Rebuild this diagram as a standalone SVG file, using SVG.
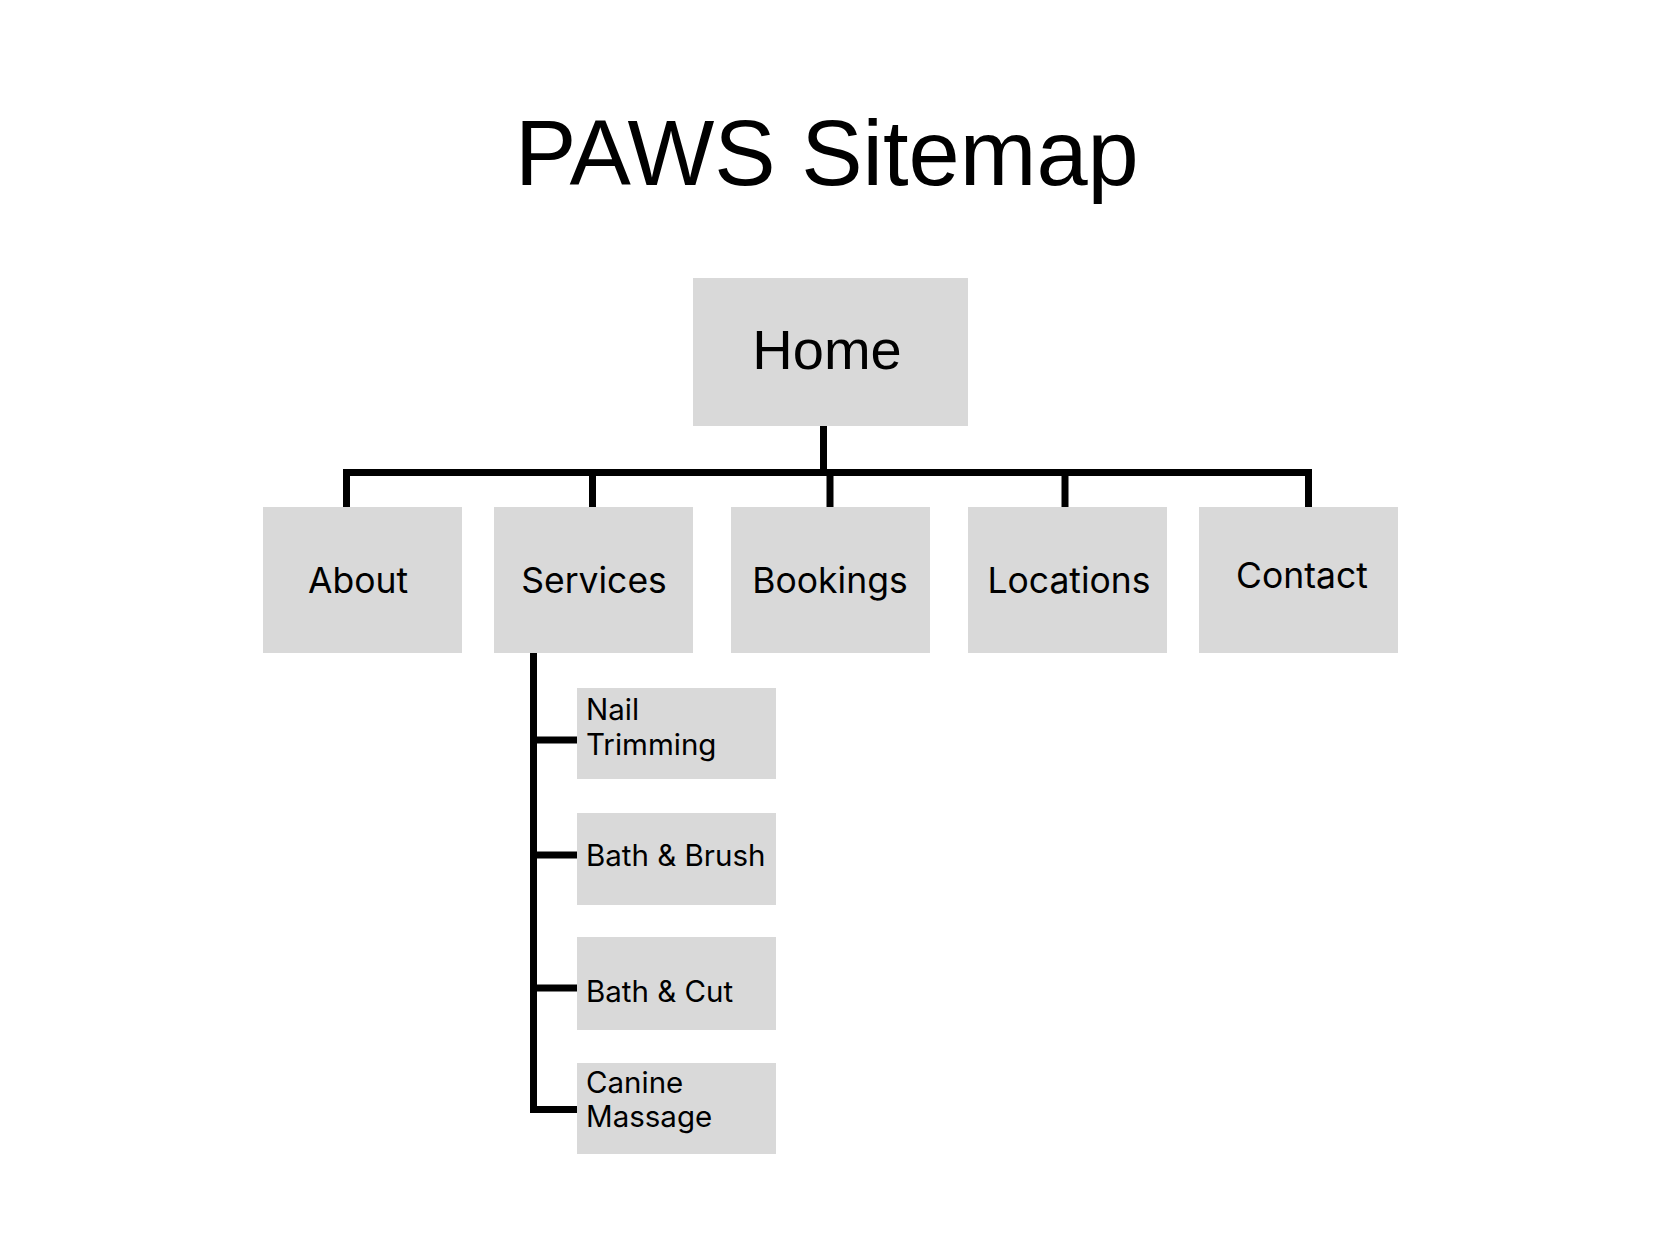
<svg xmlns="http://www.w3.org/2000/svg" width="1655" height="1240" viewBox="0 0 1655 1240">
  <style>
    .box { fill: #d9d9d9; }
    .title { font-family: "Liberation Sans", Arial, sans-serif; font-size: 92px; fill: #000; }
    .home { font-family: "Liberation Sans", Arial, sans-serif; font-size: 56px; fill: #000; text-anchor: middle; }
    .lbl { font-family: Inter, "Noto Sans", sans-serif; font-size: 35.5px; fill: #000; text-anchor: middle; }
    .sub { font-family: Inter, "Noto Sans", sans-serif; font-size: 29.5px; fill: #000; }
    .conn { fill: none; stroke: #000; stroke-width: 7; stroke-linejoin: miter; stroke-linecap: butt; }
  </style>
  <rect width="1655" height="1240" fill="#fff"/>
  <text class="title" x="515" y="185">PAWS Sitemap</text>

  <g id="connectors">
    <path class="conn" d="M823.5,426 V472.5"/>
    <path class="conn" d="M346.5,507 V472.5 H1308.5 V507"/>
    <path class="conn" d="M592.5,472.5 V507"/>
    <path class="conn" d="M830,472.5 V507"/>
    <path class="conn" d="M1065,472.5 V507"/>
    <path class="conn" d="M533.5,653 V1109.5 H577"/>
    <path class="conn" d="M533.5,740 H577"/>
    <path class="conn" d="M533.5,855 H577"/>
    <path class="conn" d="M533.5,988 H577"/>
  </g>

  <g id="home">
    <rect class="box" x="693" y="278" width="275" height="148"/>
    <text class="home" x="827" y="369">Home</text>
  </g>
  <g id="about">
    <rect class="box" x="263" y="507" width="199" height="146"/>
    <text class="lbl" x="358" y="593">About</text>
  </g>
  <g id="services">
    <rect class="box" x="494" y="507" width="199" height="146"/>
    <text class="lbl" x="594" y="593">Services</text>
  </g>
  <g id="bookings">
    <rect class="box" x="731" y="507" width="199" height="146"/>
    <text class="lbl" x="830" y="593">Bookings</text>
  </g>
  <g id="locations">
    <rect class="box" x="968" y="507" width="199" height="146"/>
    <text class="lbl" x="1069" y="593">Locations</text>
  </g>
  <g id="contact">
    <rect class="box" x="1199" y="507" width="199" height="146"/>
    <text class="lbl" x="1302" y="588">Contact</text>
  </g>
  <g id="nail-trimming">
    <rect class="box" x="577" y="688" width="199" height="91"/>
    <text class="sub" x="586" y="720">Nail</text>
    <text class="sub" x="586" y="755">Trimming</text>
  </g>
  <g id="bath-brush">
    <rect class="box" x="577" y="813" width="199" height="92"/>
    <text class="sub" x="586" y="866">Bath &amp; Brush</text>
  </g>
  <g id="bath-cut">
    <rect class="box" x="577" y="937" width="199" height="93"/>
    <text class="sub" x="586" y="1002">Bath &amp; Cut</text>
  </g>
  <g id="canine-massage">
    <rect class="box" x="577" y="1063" width="199" height="91"/>
    <text class="sub" x="586" y="1093">Canine</text>
    <text class="sub" x="586" y="1127">Massage</text>
  </g>
</svg>
